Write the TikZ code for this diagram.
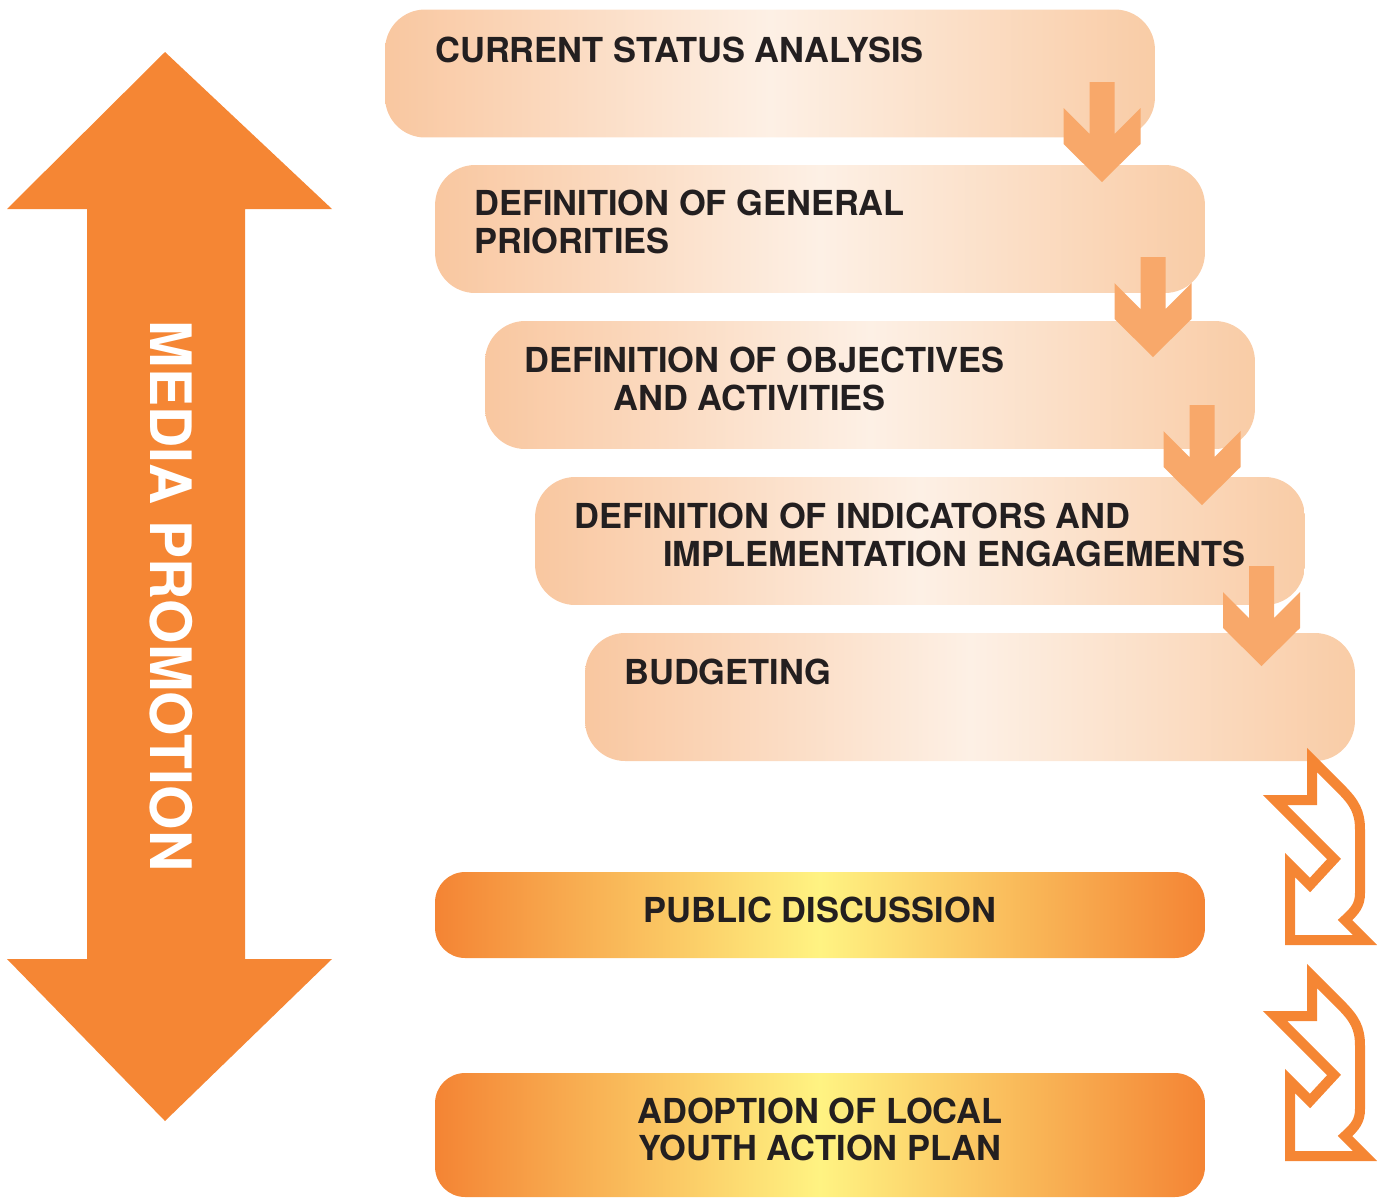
\documentclass[tikz,border=0pt]{standalone}
\usepackage{fontspec}
\setmainfont{TeX Gyre Heros}
\usepackage{tikz}

\definecolor{promo}{RGB}{245,134,52}
\definecolor{stepdown}{RGB}{248,168,106}
\definecolor{peachL}{RGB}{249,199,160}
\definecolor{peachM}{RGB}{253,240,229}
\definecolor{peachR}{RGB}{249,204,166}
\definecolor{discussO}{RGB}{244,132,52}
\definecolor{discussY}{RGB}{255,243,130}
\definecolor{ink}{RGB}{35,31,32}

\begin{document}
\begin{tikzpicture}[x={(0.02cm,0)},y={(0,-0.02cm)},
	step node/.style={rounded corners=0.8cm,minimum width=15.4cm,minimum height=2.56cm,inner sep=0pt,
		left color=peachL,right color=peachR,middle color=peachM},
	final node/.style={rounded corners=0.6cm,minimum width=15.4cm,inner sep=0pt,
		left color=discussO,right color=discussO,middle color=discussY},
	label node/.style={font=\bfseries\fontsize{19.6}{21.5}\selectfont,text=ink,inner sep=0pt,align=left},
	down arrow/.style={fill=stepdown},
	bent arrow/.style={draw=promo,line width=0.2cm,line join=miter}]
	
	\useasboundingbox (0,0) rectangle (1377,1198);
	
	% double arrow on the left
	\fill[promo] (165,52) -- (332,209) -- (245,209) -- (245,959) -- (332,959) -- (165,1121)
		-- (7,959) -- (87,959) -- (87,209) -- (7,209) -- cycle;
	\node[font=\bfseries\fontsize{32.5}{36}\selectfont,text=white,rotate=-90] (media) at (171,596) {MEDIA PROMOTION};
	
	% planning steps
	\node[step node] (current) at (770,73.5) {};
	\node[step node] (general) at (820,229) {};
	\node[step node] (objectives) at (870,385) {};
	\node[step node] (indicators) at (920,541) {};
	\node[step node] (budget) at (970,697) {};
	\node[final node,minimum height=1.72cm] (discussion) at (820,915) {};
	\node[final node,minimum height=2.48cm] (adoption) at (820,1135) {};
	
	\node[label node,anchor=north west] (t1) at (435,37) {CURRENT STATUS ANALYSIS};
	\node[label node,anchor=north west] (t2) at (474,190) {DEFINITION OF GENERAL\\PRIORITIES};
	\node[label node,anchor=north west] (t3) at (524,347) {DEFINITION OF OBJECTIVES\\\hspace*{1.78cm}AND ACTIVITIES};
	\node[label node,anchor=north west] (t4) at (574,503) {DEFINITION OF INDICATORS AND\\\hspace*{1.78cm}IMPLEMENTATION ENGAGEMENTS};
	\node[label node,anchor=north west] (t5) at (624,659) {BUDGETING};
	\node[label node] (t6) at (820,909.5) {PUBLIC DISCUSSION};
	\node[label node,align=center] (t7) at (820,1129.5) {ADOPTION OF LOCAL\\YOUTH ACTION PLAN};
	
	% arrows between the steps
	\foreach \cx/\cy in {1102/82,1153/257,1202/405,1261.5/566}
		\fill[down arrow] (\cx-12.5,\cy) -- ++(25,0) -- ++(0,52) -- ++(26,-26) -- ++(0,36)
			-- ++(-38.5,38) -- ++(-38.5,-38) -- ++(0,-36) -- ++(26,26) -- cycle;
	
	% bent outline arrows
	\foreach \dy in {0,216}
		\draw[bent arrow,shift={(0,\dy)}] (1312,760) -- (1340,788) .. controls (1355,803) and (1360,812) .. (1360,830)
			-- (1360,893) .. controls (1360,905) and (1355,911) .. (1345,920) -- (1365,940) -- (1290,940)
			-- (1290,865) -- (1310,885) -- (1334,859) -- (1275,800) -- (1312,800) -- cycle;
\end{tikzpicture}
\end{document}
